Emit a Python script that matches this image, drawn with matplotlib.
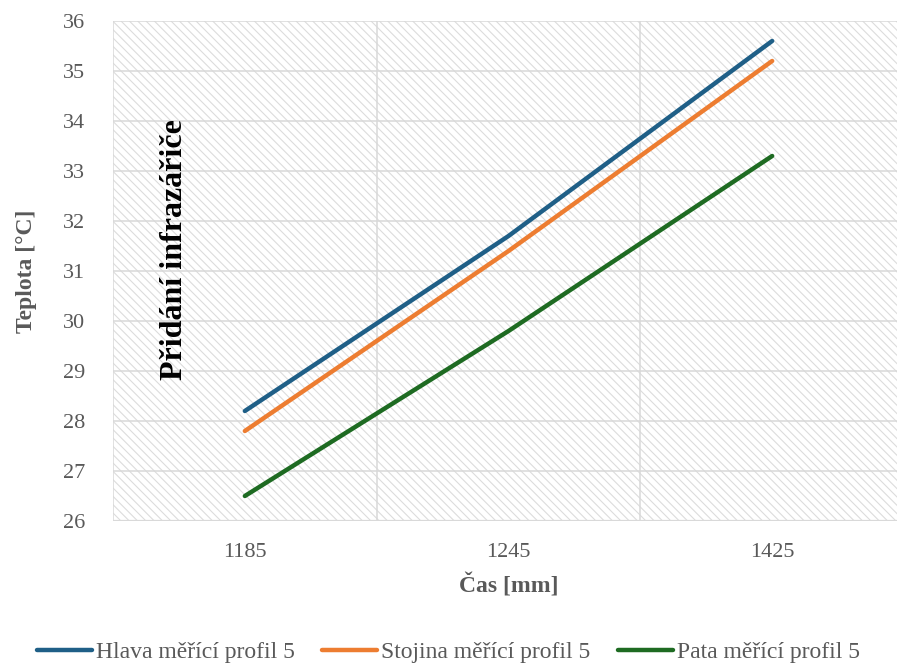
import matplotlib.pyplot as plt
from matplotlib.patches import Rectangle

# data
categories = ['1185', '1245', '1425']
hlava = [28.2, 31.7, 35.6]
stojina = [27.8, 31.4, 35.2]
pata = [26.5, 29.8, 33.3]

series = [
    ('Hlava měřící profil 5', hlava, '#1f5f87'),
    ('Stojina měřící profil 5', stojina, '#ed7d31'),
    ('Pata měřící profil 5', pata, '#1e6b22'),
]

plt.rcParams['font.family'] = ['Liberation Serif', 'DejaVu Serif']
plt.rcParams['hatch.linewidth'] = 0.8

fig = plt.figure(figsize=(8.97, 6.66), dpi=100)
ax = fig.add_axes([0.126, 0.2177, 0.8818, 0.7508])

grid_col = '#d9d9d9'
text_col = '#595959'

# hatched plot area background
bg = Rectangle((0, 0), 1, 1, transform=ax.transAxes, facecolor='white',
               edgecolor='#dcdcdc', hatch='\\\\\\\\', linewidth=0, zorder=0)
ax.add_patch(bg)

x = range(len(categories))
for name, vals, col in series:
    ax.plot(x, vals, color=col, lw=3.2, solid_capstyle='round', label=name, zorder=3)

ax.set_xlim(-0.5, len(categories) - 0.5)
ax.set_ylim(26, 36)
ax.set_yticks(range(26, 37))
ax.set_xticks(list(x))
ax.set_xticklabels(categories)

ax.grid(axis='y', color=grid_col, lw=1.1, zorder=1)
for b in [-0.5, 0.5, 1.5, 2.5]:
    ax.axvline(b, color=grid_col, lw=1.1, zorder=1)
for s in ax.spines.values():
    s.set_visible(False)
ax.axhline(26, color=grid_col, lw=1.6, zorder=2)

ax.tick_params(length=0, labelsize=16, labelcolor=text_col)
ax.tick_params(axis='x', pad=16)
ax.tick_params(axis='y', pad=20)

ax.set_xlabel('Čas [mm]', fontsize=17, fontweight='bold', color=text_col, labelpad=8)
ax.set_ylabel('Teplota [°C]', fontsize=17, fontweight='bold', color=text_col, labelpad=19)

ax.text(-0.265, 31.42, 'Přidání infrazářiče', rotation=90, ha='center', va='center',
        fontsize=23, fontweight='bold', color='black', zorder=4)

fig.legend(loc='center', bbox_to_anchor=(0.5, 1 - 652 / 666), ncol=3, frameon=False,
           fontsize=17, labelcolor=text_col, handlelength=2.33, handletextpad=0.17,
           columnspacing=1.15)

fig.savefig('out.png', dpi=100)
